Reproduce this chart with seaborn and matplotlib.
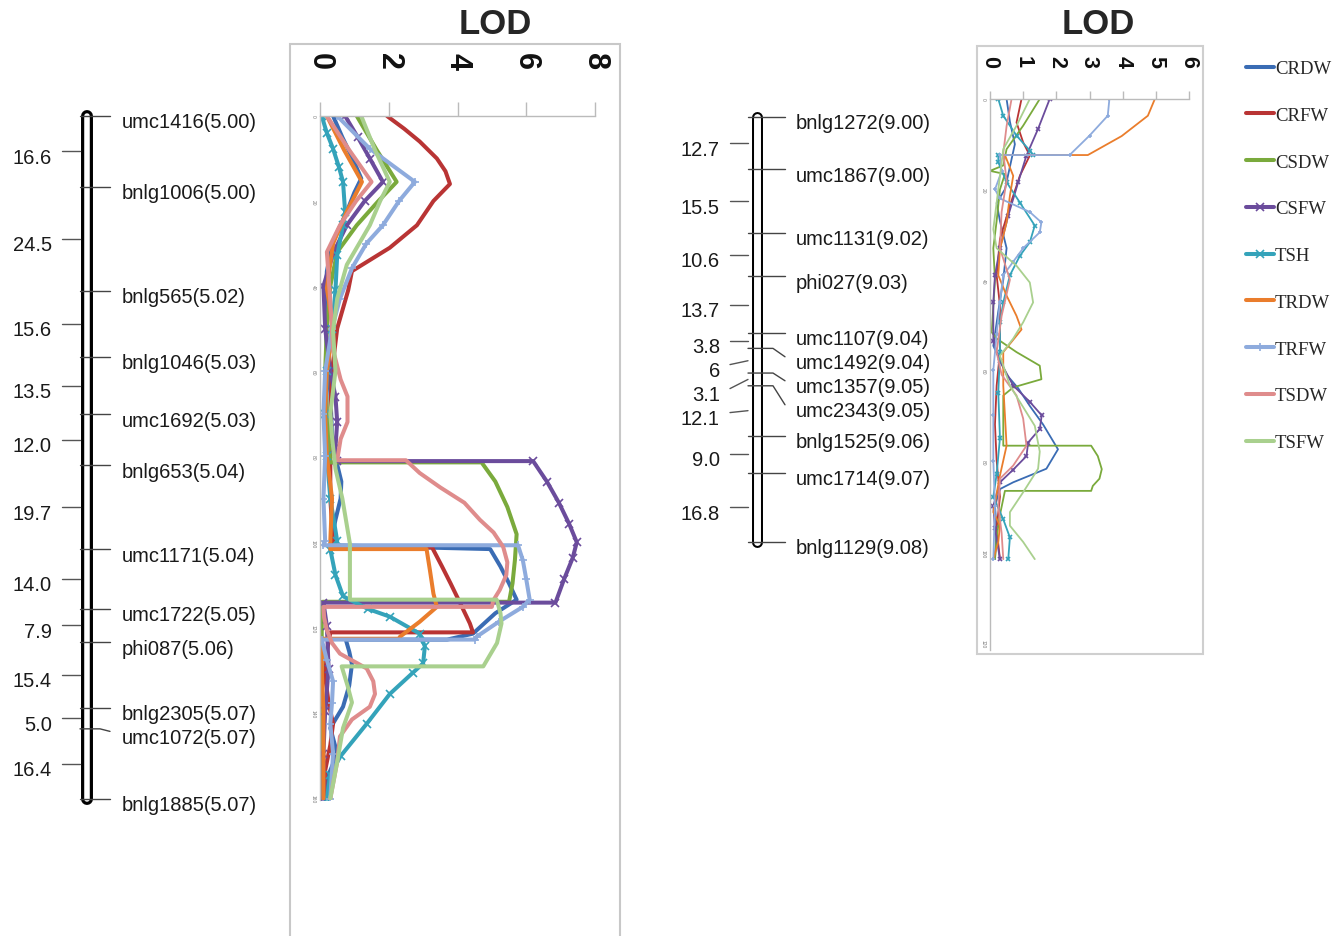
import numpy as np
import pandas as pd
import seaborn as sns
import matplotlib.pyplot as plt
from matplotlib.patches import Rectangle

W, H = 1333, 937

traits = ["CRDW", "CRFW", "CSDW", "CSFW", "TSH", "TRDW", "TRFW", "TSDW", "TSFW"]
palette = ["#3a6cb4", "#b93434", "#7aaa3c", "#6b4c9c", "#34a3ba",
           "#ea7d2c", "#8eabdd", "#df8c8c", "#a9d08e"]

# linkage maps: marker names and interval lengths (cM)
chr5_markers = ["umc1416(5.00)", "bnlg1006(5.00)", "bnlg565(5.02)", "bnlg1046(5.03)",
                "umc1692(5.03)", "bnlg653(5.04)", "umc1171(5.04)", "umc1722(5.05)",
                "phi087(5.06)", "bnlg2305(5.07)", "umc1072(5.07)", "bnlg1885(5.07)"]
chr5_gaps = ["16.6", "24.5", "15.6", "13.5", "12.0", "19.7", "14.0", "7.9", "15.4", "5.0", "16.4"]

chr9_markers = ["bnlg1272(9.00)", "umc1867(9.00)", "umc1131(9.02)", "phi027(9.03)",
                "umc1107(9.04)", "umc1492(9.04)", "umc1357(9.05)", "umc2343(9.05)",
                "bnlg1525(9.06)", "umc1714(9.07)", "bnlg1129(9.08)"]
chr9_gaps = ["12.7", "15.5", "10.6", "13.7", "3.8", "6", "3.1", "12.1", "9.0", "16.8"]

# LOD profiles along chromosome 5 (position cM, LOD)
c5_crdw_cm = [0, 5, 10, 14.7, 18, 22.5, 29.5, 36.5, 45, 55, 65, 75, 82, 86, 90, 95, 101, 101.9,
              106, 110, 113.8, 117, 121.8, 123.2, 123.2, 126, 129, 134, 139, 144, 150, 155, 160.6]
c5_crdw_lod = [0.38, 0.65, 0.95, 1.2, 1.0, 0.78, 0.38, 0.2, 0.15, 0.2, 0.3, 0.35, 0.5, 0.62, 0.6,
               0.45, 0.3, 4.95, 5.25, 5.5, 5.72, 5.1, 4.45, 3.7, 0.75, 0.85, 0.93, 0.85, 0.67,
               0.3, 0.5, 0.25, 0.15]
c5_crfw_cm = [0, 3, 6, 10, 13, 16, 20, 25.7, 31, 36.5, 41, 50, 60, 70, 80, 90, 100, 101.5, 101.5,
              106, 110, 115, 119.4, 121.5, 121.5, 126, 132, 138, 143, 148, 154, 160.6]
c5_crfw_lod = [1.95, 2.45, 2.9, 3.4, 3.65, 3.78, 3.3, 2.82, 2.03, 0.93, 0.82, 0.5, 0.35, 0.3, 0.3,
               0.3, 0.38, 0.38, 3.26, 3.55, 3.8, 4.1, 4.36, 4.45, 0.3, 0.2, 0.15, 0.25, 0.38, 0.3,
               0.15, 0.1]
c5_csdw_cm = [0, 8, 15.5, 20, 25.7, 32, 40, 50, 60, 70, 81.5, 81.5, 86, 92, 98.4, 104.5, 110,
              114.3, 114.3, 120, 130, 140, 150, 160.6]
c5_csdw_lod = [1.07, 1.65, 2.23, 1.7, 1.07, 0.5, 0.3, 0.2, 0.15, 0.2, 0.3, 4.7, 5.1, 5.45, 5.72,
               5.67, 5.6, 5.5, 0.08, 0.05, 0.05, 0.05, 0.05, 0.05]
c5_csfw_cm = [0, 5, 10, 15.5, 20, 25.7, 32, 40, 50, 60, 66, 72, 78, 81.2, 81.2, 86, 91, 96,
              100.3, 104, 109, 114.5, 114.5, 120, 130, 140, 150, 160.6]
c5_csfw_lod = [0.73, 1.1, 1.45, 1.83, 1.3, 0.78, 0.4, 0.1, 0.15, 0.3, 0.45, 0.5, 0.45, 0.5, 6.2,
               6.6, 6.95, 7.25, 7.47, 7.35, 7.1, 6.85, 0.1, 0.2, 0.25, 0.15, 0.1, 0.1]
c5_tsh_cm = [0, 4, 7.7, 12, 15.5, 22.5, 25.7, 32.8, 41, 50, 60, 70, 80, 90, 100, 102, 108, 113,
             116, 117.8, 121.8, 124.8, 128.8, 131, 136, 143, 150.6, 155, 160.6]
c5_tsh_lod = [0.05, 0.2, 0.38, 0.55, 0.67, 0.73, 0.67, 0.5, 0.45, 0.35, 0.2, 0.15, 0.2, 0.3, 0.5,
              0.3, 0.45, 0.67, 1.4, 2.03, 2.9, 3.05, 3.0, 2.7, 2.03, 1.36, 0.6, 0.3, 0.2]
c5_trdw_cm = [0, 8, 15.5, 22.5, 30, 40.5, 50, 60, 70, 80, 90, 100, 101.9, 101.9, 107, 112.4, 115.5,
              119, 122.5, 123, 123, 130, 140, 150, 160.6]
c5_trdw_lod = [0.2, 0.7, 1.22, 0.78, 0.38, 0.2, 0.38, 0.2, 0.15, 0.2, 0.35, 0.3, 0.3, 3.1, 3.2,
               3.3, 3.4, 2.9, 2.33, 2.3, 0.05, 0.05, 0.1, 0.1, 0.1]
c5_trfw_cm = [0, 7.7, 15.5, 20, 25.7, 30, 35.8, 43, 50, 60, 70, 80, 90, 100, 101, 101, 104.5, 109,
              113.8, 115.5, 119, 122.5, 123.2, 123.2, 128, 133, 138, 143, 150, 160.6]
c5_trfw_lod = [0.5, 1.45, 2.76, 2.3, 1.83, 1.35, 0.93, 0.58, 0.35, 0.15, 0.1, 0.15, 0.1, 0.15,
               0.1, 5.76, 5.9, 6.0, 6.1, 5.9, 5.2, 4.56, 4.5, 0.05, 0.2, 0.38, 0.35, 0.3, 0.38, 0.3]
c5_tsdw_cm = [0, 8, 15.5, 20, 25.7, 32, 43.6, 55, 62, 66, 72, 76, 81, 81, 84, 87.4, 91, 95, 98,
              101.4, 105, 108, 111.5, 114, 115.5, 115.5, 118, 121, 124, 126.5, 130, 133, 136, 139,
              142, 146, 152, 160.6]
c5_tsdw_lod = [0.2, 0.85, 1.5, 1.05, 0.58, 0.2, 0.3, 0.38, 0.6, 0.8, 0.8, 0.6, 0.5, 2.5, 2.9, 3.5,
               4.2, 4.65, 5.05, 5.33, 5.45, 5.42, 5.23, 5.04, 5.0, 0.1, 0.12, 0.2, 0.35, 0.58,
               1.36, 1.55, 1.6, 1.45, 0.93, 0.58, 0.5, 0.3]
c5_tsfw_cm = [0, 8, 15.5, 20, 25.7, 35, 43, 50.6, 60, 70, 75.6, 83, 90, 100.6, 107, 113.8, 113.8,
              117, 119.4, 124, 129.5, 129.5, 134, 138, 144, 152, 160.6]
c5_tsfw_lod = [1.2, 1.6, 2.03, 1.75, 1.45, 0.78, 0.5, 0.38, 0.45, 0.3, 0.35, 0.45, 0.65, 0.87,
               0.87, 0.87, 5.14, 5.25, 5.28, 5.15, 4.75, 0.63, 0.8, 0.93, 0.67, 0.5, 0.3]

# LOD profiles along chromosome 9 (position cM, LOD)
c9_crdw_cm = [0, 5, 10, 15, 20, 23, 27, 33, 40, 47, 54.6, 61, 64, 67.9, 72, 77.5, 81.8, 84.8,
              86.3, 90, 95, 101.8]
c9_crdw_lod = [0.5, 0.6, 0.75, 0.6, 0.45, 0.2, 0.3, 0.5, 0.4, 0.25, 0.1, 0.5, 0.85, 1.2, 1.6,
               2.05, 1.7, 0.7, 0.3, 0.15, 0.2, 0.15]
c9_crfw_cm = [0, 5.2, 9.6, 12.5, 17, 23.6, 31, 39, 45.7, 56, 63.4, 72, 80, 88, 95, 101.8]
c9_crfw_lod = [0.95, 0.8, 1.0, 1.2, 0.9, 0.6, 0.3, 0.2, 0.3, 0.3, 0.2, 0.15, 0.2, 0.3, 0.2, 0.3]
c9_csdw_cm = [0, 5.9, 11.1, 14.7, 15.9, 16.6, 20, 27, 33, 40, 46, 51.6, 53, 56, 59, 62, 63.8, 65.6,
              76.7, 76.7, 79, 81.9, 84, 85.6, 86.7, 86.7, 92, 97, 101.8]
c9_csdw_lod = [1.5, 1.0, 0.5, 0.4, 0.0, 0.45, 0.3, 0.2, 0.1, 0.15, 0.1, 0.05, 0.2, 0.8, 1.5, 1.55,
               0.7, 0.4, 0.4, 3.05, 3.25, 3.37, 3.3, 3.1, 3.05, 0.45, 0.3, 0.2, 0.15]
c9_csfw_cm = [0, 6.6, 12.5, 18.4, 25.8, 33, 39, 45, 53.6, 58, 63.4, 67, 70, 73, 76, 79, 82, 84.8,
              90, 95, 101.8]
c9_csfw_lod = [1.8, 1.45, 1.1, 0.85, 0.55, 0.3, 0.15, 0.1, 0.1, 0.3, 0.7, 1.2, 1.56, 1.5, 1.15,
               1.1, 0.7, 0.3, 0.1, 0.15, 0.3]
c9_tsh_cm = [0, 3.7, 8.1, 11.4, 12.4, 12.4, 14, 18.4, 22.9, 28, 31.7, 34.7, 39, 45, 49.4, 56, 65,
             75, 83, 88, 93, 97, 101.8]
c9_tsh_lod = [0.25, 0.4, 0.8, 1.2, 1.3, 0.25, 0.25, 0.5, 0.9, 1.35, 1.2, 0.9, 0.6, 0.4, 0.3, 0.3,
              0.25, 0.3, 0.2, 0.1, 0.4, 0.6, 0.55]
c9_trdw_cm = [0, 3.7, 8.2, 12.4, 12.4, 17, 21.4, 27.3, 33.2, 39, 43.5, 48, 51, 56, 63.4, 70, 76.7,
              83.3, 91.4, 94.4, 98, 101.8]
c9_trdw_lod = [4.97, 4.76, 3.97, 2.95, 0.45, 0.7, 0.6, 0.5, 0.3, 0.25, 0.5, 0.8, 0.95, 0.4, 0.4,
               0.45, 0.5, 0.3, 0.1, 0.3, 0.25, 0.1]
c9_trfw_cm = [0, 3.7, 8.1, 12.4, 12.4, 16, 20, 22, 25, 27.3, 29.5, 33, 36, 39, 45, 52, 60, 70, 80,
              90, 101.8]
c9_trfw_lod = [3.6, 3.55, 3.0, 2.4, 0.3, 0.35, 0.15, 0.3, 1.2, 1.55, 1.5, 1.0, 0.7, 0.4, 0.3, 0.2,
               0.1, 0.1, 0.1, 0.15, 0.1]
c9_tsdw_cm = [0, 6, 12, 18, 25, 33, 40, 48, 56, 61, 65.6, 70.7, 76.7, 81.1, 84, 90, 96, 101.8]
c9_tsdw_lod = [0.65, 0.5, 0.4, 0.5, 0.35, 0.3, 0.6, 0.35, 0.2, 0.35, 0.8, 1.0, 1.1, 0.7, 0.3,
               0.25, 0.35, 0.4]
c9_tsfw_cm = [0, 5.9, 11.1, 20, 28.8, 33, 36.9, 40.6, 45, 49.4, 53, 56.8, 63.4, 67, 72.3, 78,
              81.8, 87, 91.4, 94.4, 98, 101.8]
c9_tsfw_lod = [1.2, 0.8, 0.4, 0.25, 0.1, 0.2, 0.8, 1.2, 1.3, 1.0, 0.7, 0.3, 0.6, 0.9, 1.35, 1.5,
               1.45, 1.0, 0.6, 0.6, 1.0, 1.35]

chr5_profiles = {
    "CRDW": (c5_crdw_cm, c5_crdw_lod), "CRFW": (c5_crfw_cm, c5_crfw_lod),
    "CSDW": (c5_csdw_cm, c5_csdw_lod), "CSFW": (c5_csfw_cm, c5_csfw_lod),
    "TSH": (c5_tsh_cm, c5_tsh_lod), "TRDW": (c5_trdw_cm, c5_trdw_lod),
    "TRFW": (c5_trfw_cm, c5_trfw_lod), "TSDW": (c5_tsdw_cm, c5_tsdw_lod),
    "TSFW": (c5_tsfw_cm, c5_tsfw_lod),
}
chr9_profiles = {
    "CRDW": (c9_crdw_cm, c9_crdw_lod), "CRFW": (c9_crfw_cm, c9_crfw_lod),
    "CSDW": (c9_csdw_cm, c9_csdw_lod), "CSFW": (c9_csfw_cm, c9_csfw_lod),
    "TSH": (c9_tsh_cm, c9_tsh_lod), "TRDW": (c9_trdw_cm, c9_trdw_lod),
    "TRFW": (c9_trfw_cm, c9_trfw_lod), "TSDW": (c9_tsdw_cm, c9_tsdw_lod),
    "TSFW": (c9_tsfw_cm, c9_tsfw_lod),
}
marker_style = {"CSFW": "x", "TSH": "x", "TRFW": "+"}


def spread(vals, gap):
    # push labels down so they don't overlap
    out = []
    for v in vals:
        out.append(v if not out else max(v, out[-1] + gap))
    return out


def draw_chromosome(ax, names, gaps, xc, outer, inner, mk, gp, min_sep, fs):
    gap_vals = [float(g) for g in gaps]
    pos = np.concatenate([[0], np.cumsum(gap_vals)])
    ax.plot([xc, xc], [pos[0], pos[-1]], color="black", lw=outer, solid_capstyle="round",
            zorder=2, clip_on=False)
    ax.plot([xc, xc], [pos[0], pos[-1]], color="white", lw=inner, solid_capstyle="round",
            zorder=3, clip_on=False)

    # marker ticks and names
    x0, knee, x1, xt = mk
    for name, p, lab in zip(names, pos, spread(pos, min_sep)):
        if lab - p > 0.5:
            ax.plot([x0, knee, x1], [p, p, lab], color="#444444", lw=1.0, zorder=4, clip_on=False)
        else:
            ax.plot([x0, x1], [p, p], color="#444444", lw=1.0, zorder=4, clip_on=False)
        ax.annotate(name, (xt, lab), xytext=(0, -4.3), textcoords="offset points",
                    ha="left", va="center", fontsize=fs, color="#1a1a1a")

    # interval lengths
    g0, g1, gt = gp
    mids = (pos[:-1] + pos[1:]) / 2
    for txt, m, lab in zip(gaps, mids, spread(mids, min_sep)):
        ax.plot([g0, g1], [lab, m], color="#555555", lw=1.0)
        ax.annotate(txt, (gt, lab), xytext=(0, -4.3), textcoords="offset points",
                    ha="right", va="center", fontsize=fs, color="#1a1a1a")
    ax.axis("off")


def draw_profiles(ax, profiles, lw, ms):
    handles = []
    for trait, color in zip(traits, palette):
        cm, lod = profiles[trait]
        prof = pd.DataFrame({"cM": cm, "LOD": lod})
        extra = {}
        if trait in marker_style:
            extra = dict(marker=marker_style[trait], markersize=ms,
                         markeredgecolor=color, markeredgewidth=1.2)
        sns.lineplot(data=prof, x="LOD", y="cM", sort=False, estimator=None, color=color,
                     linewidth=lw, label=trait, legend=False, ax=ax, **extra)
        handles.append(ax.lines[-1])
    ax.set(xlabel="", ylabel="")
    return handles


def style_lod_axis(ax, xmax, xstep, ymax, fs, tick_len, pad):
    ax.set_xlim(0, xmax)
    ax.set_ylim(ymax, 0)
    ax.xaxis.tick_top()
    ax.set_xticks(np.arange(0, xmax + 1, xstep))
    ax.set_yticks(np.arange(0, ymax, 20))
    ax.tick_params(axis="x", length=tick_len, width=1, color="#bbbbbb", labelsize=fs,
                   pad=pad, labelrotation=-90, labelcolor="#111111")
    ax.tick_params(axis="y", length=2, width=0.8, color="#bbbbbb", labelsize=3.5,
                   labelcolor="#777777", labelrotation=-90, pad=1)
    for lab in ax.get_xticklabels():
        lab.set_fontweight("bold")
    for s in ["right", "bottom"]:
        ax.spines[s].set_visible(False)
    for s in ["top", "left"]:
        ax.spines[s].set_color("#bbbbbb")
        ax.spines[s].set_linewidth(1.0)
    ax.patch.set_alpha(0)


sns.set_style("white")
plt.rcParams["font.family"] = ["Liberation Sans", "DejaVu Sans"]

fig = plt.figure(figsize=(W / 100, H / 100), dpi=100)


def px_axes(x0, x1, y0, y1):
    return fig.add_axes([x0 / W, 1 - y1 / H, (x1 - x0) / W, (y1 - y0) / H])


# gray frames behind the two LOD panels
fig.add_artist(Rectangle((290 / W, -0.02), 330 / W, (937 - 45) / H + 0.02,
                         transform=fig.transFigure, fill=False, ec="#c8c8c8", lw=1.5))
fig.add_artist(Rectangle((977 / W, 1 - 655 / H), 226 / W, 608 / H,
                         transform=fig.transFigure, fill=False, ec="#cfcfcf", lw=1.5))

# chromosome 5
s5 = 4.25
ax_c5 = px_axes(0, 290, 117, 117 + 161 * s5)
ax_c5.set_xlim(0, 290)
ax_c5.set_ylim(161, 0)
draw_chromosome(ax_c5, chr5_markers, chr5_gaps, 87, 8.6, 4.0, (80, 100, 110, 122),
                (62, 80, 52), 5.6, 14.5)

ax_l5 = px_axes(320, 595, 117, 117 + 161 * s5)
handles = draw_profiles(ax_l5, chr5_profiles, 2.9, 6)
style_lod_axis(ax_l5, 8, 2, 161, 22, 10, 24)

# chromosome 9
s9 = 4.11
ax_c9 = px_axes(660, 960, 118, 118 + 110 * s9)
ax_c9.set_xlim(660, 960)
ax_c9.set_ylim(110, 0)
draw_chromosome(ax_c9, chr9_markers, chr9_gaps, 757, 7.9, 5.0, (748, 773, 785, 796),
                (730, 748, 720), 24 / s9, 14.5)

ax_l9 = px_axes(990, 1189, 100, 100 + 122 * 4.52)
draw_profiles(ax_l9, chr9_profiles, 1.3, 2.5)
style_lod_axis(ax_l9, 6, 1, 122, 15.5, 6, 17)

fig.text(495 / W, 1 - 25 / H, "LOD", ha="center", va="center", fontsize=25, fontweight="bold")
fig.text(1098 / W, 1 - 25 / H, "LOD", ha="center", va="center", fontsize=25, fontweight="bold")

fig.legend(handles, traits, loc="upper left", bbox_to_anchor=(1246 / W, 1 - 61 / H),
           frameon=False, handlelength=1.5, handletextpad=0.05, labelspacing=1.58,
           borderaxespad=0, borderpad=0,
           prop={"family": "Liberation Serif", "size": 13.5})

fig.savefig("out.png", dpi=100)
